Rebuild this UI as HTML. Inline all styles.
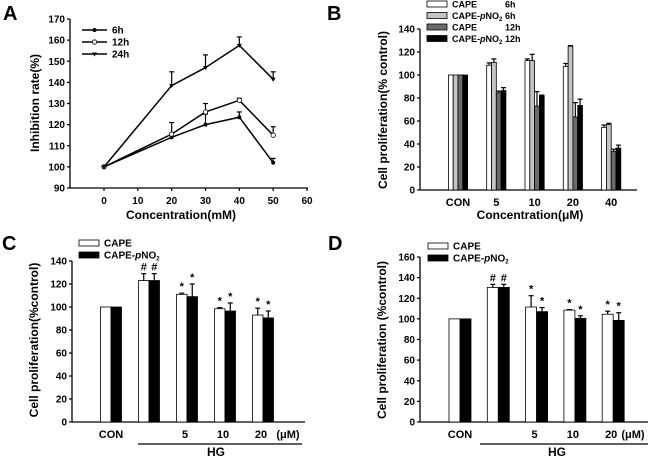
<!DOCTYPE html>
<html><head><meta charset="utf-8">
<style>
body{margin:0;background:#fff;}
svg{display:block;font-family:"Liberation Sans",Arial,sans-serif;font-weight:bold;}
</style></head>
<body>
<svg id="fig" width="650" height="458" viewBox="0 0 650 458" xmlns="http://www.w3.org/2000/svg"></svg>
<script>
// ---- Panel A data ----
const aX = [0, 20, 30, 40, 50];
const a6h = [100, 114, 120, 123.5, 102];
const a12h = [100, 115.5, 126, 131.5, 115];
const a24h = [100, 138.5, 147, 157.5, 141.5];
const a6hErr = [0, 0, 5, 2.5, 2];
const a12hErr = [0, 5.5, 4, 1, 4];
const a24hErr = [0, 6.5, 6, 4, 3.5];
const aXTicks = [0, 10, 20, 30, 40, 50, 60];
const aYTicks = [90, 100, 110, 120, 130, 140, 150, 160, 170];
// ---- Panel B data ----
const bCats = ["CON", "5", "10", "20", "40"];
const bCape6 = [100, 108.5, 112.5, 107.5, 54.5];
const bNo26 = [100, 111, 112.5, 125, 57];
const bCape12 = [100, 84.5, 73, 63.5, 33.5];
const bNo212 = [100, 86.5, 82, 73.5, 36.5];
const bCape6Err = [0, 2, 1.5, 2.5, 2];
const bNo26Err = [0, 3, 5.5, 0.5, 1];
const bCape12Err = [0, 1.5, 12.5, 12.5, 2];
const bNo212Err = [0, 2.5, 0.5, 5.5, 2.5];
const bYTicks = [0, 20, 40, 60, 80, 100, 120, 140];
// ---- Panel C data ----
const cCats = ["CON", "", "5", "10", "20"];
const cCape = [100, 123, 111, 98.5, 93];
const cNo2 = [100, 123, 109, 96.5, 90.5];
const cCapeErr = [0, 6, 1, 1, 6];
const cNo2Err = [0, 6, 11, 7, 6];
const cMarks = ["", "#", "*", "*", "*"];
const cYTicks = [0, 20, 40, 60, 80, 100, 120, 140];
// ---- Panel D data ----
const dCats = ["CON", "", "5", "10", "20"];
const dCape = [100, 130.5, 111.5, 108.5, 104.5];
const dNo2 = [100, 130.5, 107, 100.5, 98.5];
const dCapeErr = [0, 3, 11, 0.5, 3];
const dNo2Err = [0, 3, 4, 2.5, 7.5];
const dMarks = ["", "#", "*", "*", "*"];
const dYTicks = [0, 20, 40, 60, 80, 100, 120, 140, 160];

const NS = "http://www.w3.org/2000/svg";
const svg = document.getElementById("fig");
function mk(tag, attrs, parent, text) {
  const e = document.createElementNS(NS, tag);
  for (const k in attrs) e.setAttribute(k, attrs[k]);
  if (text !== undefined) e.textContent = text;
  (parent || svg).appendChild(e);
  return e;
}
function txt(x, y, s, size, anchor, name, parent) {
  const t = mk("text", {x: x, y: y, "font-size": size, "text-anchor": anchor || "middle"}, parent, s);
  
  
  return t;
}
function line(x1, y1, x2, y2, w, parent) {
  return mk("line", {x1: x1, y1: y1, x2: x2, y2: y2, stroke: "#000", "stroke-width": w || 1.3}, parent);
}
function group(name) {
  const g = mk("g", {});
  
  
  return g;
}
function errBar(x, yTop, yBase, parent) {
  if (Math.abs(yBase - yTop) < 0.5) return;
  line(x, yBase, x, yTop, 1.2, parent);
  line(x - 2.5, yTop, x + 2.5, yTop, 1.2, parent);
}
function yTitle(x, y, s, name, parent) {
  const t = txt(x, y, s, 12, "middle", name, parent);
  t.setAttribute("transform", "rotate(-90 " + x + " " + y + ")");
  return t;
}

// ===== Panel A =====
(function () {
  const g = group("panel-a");
  txt(3, 20, "A", 20, "start", "panel-label-a", g);
  const x0 = 70, x1 = 308, yT = 19, yB = 188;
  const sx = v => 104 + (v - 0) * (307 - 104) / 60;
  const sy = v => yB - (v - 90) * (yB - yT) / 80;
  line(x0, yT, x0, yB, 1.3, g);
  line(x0, yB, x1, yB, 1.3, g);
  aYTicks.forEach(v => { line(x0 - 3, sy(v), x0, sy(v), 1.2, g); txt(x0 - 5, sy(v) + 3.5, v, 10, "end", "y-tick-label", g); });
  aXTicks.forEach(v => { line(sx(v), yB, sx(v), yB + 3, 1.2, g); txt(sx(v), yB + 16, v, 10, "middle", "x-tick-label", g); });
  txt(181, 219, "Concentration(mM)", 12, "middle", "x-axis-title", g);
  yTitle(39, 103, "Inhibition rate(%)", "y-axis-title", g);
  const series = [[a6h, a6hErr, "6h", "dot"], [a12h, a12hErr, "12h", "open"], [a24h, a24hErr, "24h", "tri"]];
  series.forEach((s, si) => {
    const sg = group("series-" + s[2]);
    g.appendChild(sg);
    const pts = aX.map((x, i) => sx(x) + "," + sy(s[0][i])).join(" ");
    mk("polyline", {points: pts, fill: "none", stroke: "#000", "stroke-width": 1.5}, sg);
    aX.forEach((x, i) => {
      errBar(sx(x), sy(s[0][i] + s[1][i]), sy(s[0][i]), sg);
      drawMarker(sx(x), sy(s[0][i]), s[3], sg);
    });
    const ly = 30 + si * 12;
    line(82, ly, 107, ly, 1.5, g);
    drawMarker(94.5, ly, s[3], g);
    txt(112, ly + 3.5, s[2], 10, "start", "legend-entry-" + s[2], g);
  });
  function drawMarker(x, y, type, p) {
    if (type === "dot") mk("circle", {cx: x, cy: y, r: 2, fill: "#000"}, p);
    else if (type === "open") mk("circle", {cx: x, cy: y, r: 2.2, fill: "#fff", stroke: "#000", "stroke-width": 0.8}, p);
    else mk("polygon", {points: (x - 2.5) + "," + (y - 1.5) + " " + (x + 2.5) + "," + (y - 1.5) + " " + x + "," + (y + 2.5), fill: "#000"}, p);
  }
})();

// ===== generic bar panel =====
function barPanel(o) {
  const g = group(o.name);
  txt(o.lx, o.ly, o.letter, 20, "start", "panel-label-" + o.letter.toLowerCase(), g);
  const sy = v => o.yB - v * (o.yB - o.yT) / o.yMax;
  line(o.x0, o.yT, o.x0, o.yB, 1.3, g);
  line(o.x0, o.yB, o.x1, o.yB, 1.3, g);
  o.yTicks.forEach(v => { line(o.x0 - 3, sy(v), o.x0, sy(v), 1.2, g); txt(o.x0 - 5, sy(v) + 3.5, v, 10, "end", "y-tick-label", g); });
  const n = o.series.length;
  o.cats.forEach((c, i) => {
    const cx = o.c0 + i * o.step;
    o.series.forEach((s, si) => {
      const bx = cx - n * o.bw / 2 + si * o.bw;
      const v = s.vals[i];
      const r = mk("rect", {x: bx, y: sy(v), width: o.bw, height: o.yB - sy(v), fill: s.color, stroke: "#000", "stroke-width": 0.8}, g);
      
      
      errBar(bx + o.bw / 2, sy(v + s.err[i]), sy(v), g);
      if (o.marks && o.marks[i]) txt(bx + o.bw / 2, sy(v + s.err[i]) - 3, o.marks[i], 11, "middle", "significance-mark", g);
    });
    if (c) txt(cx + (o.catDx && i > 0 ? o.catDx : 0), o.yB + 16, c, 11, "middle", "x-tick-label", g);
  });
  o.series.forEach((s, si) => {
    const ly = o.legY + si * o.legStep;
    const r = mk("rect", {x: o.legX, y: ly - 3, width: 20, height: 6, fill: s.color, stroke: "#000", "stroke-width": 0.8}, g);
    
    
    const t = mk("text", {x: o.legX + 25, y: ly + 3.5, "font-size": o.legFont || 10}, g);
    
    
    s.label.forEach(part => {
      mk("tspan", part.attrs || {}, t, part.t);
    });
    if (s.time) txt(o.legX + 78, ly + 3.5, s.time, o.legFont || 10, "start", "legend-time", g);
  });
  return {g: g, sy: sy};
}
const lblCape = [{t: "CAPE"}];
const lblNo2 = [{t: "CAPE-"}, {t: "p", attrs: {"font-style": "italic"}}, {t: "NO"}, {t: "2", attrs: {"font-size": 6, dy: 2}}];

// ===== Panel B =====
(function () {
  const r = barPanel({name: "panel-b", letter: "B", lx: 327, ly: 20, x0: 420, x1: 637, yT: 29, yB: 190, yMax: 140,
    yTicks: bYTicks, cats: bCats, c0: 458, step: 38.3, bw: 4.8,
    series: [
      {key: "cape-6h", vals: bCape6, err: bCape6Err, color: "#fff", label: lblCape, time: "6h"},
      {key: "no2-6h", vals: bNo26, err: bNo26Err, color: "#c4c4c4", label: lblNo2, time: "6h"},
      {key: "cape-12h", vals: bCape12, err: bCape12Err, color: "#6a6a6a", label: lblCape, time: "12h"},
      {key: "no2-12h", vals: bNo212, err: bNo212Err, color: "#000", label: lblNo2, time: "12h"}],
    legX: 427, legY: 4, legStep: 11.5, legFont: 9});
  txt(530, 219, "Concentration(μM)", 12, "middle", "x-axis-title", r.g);
  yTitle(387, 110, "Cell proliferation(% control)", "y-axis-title", r.g);
})();

// ===== Panel C =====
(function () {
  const r = barPanel({name: "panel-c", letter: "C", lx: 2, ly: 250, x0: 72, x1: 305, yT: 261, yB: 422, yMax: 140,
    yTicks: cYTicks, cats: cCats, c0: 111, step: 38, bw: 10.5, marks: cMarks, catDx: -2,
    series: [
      {key: "cape", vals: cCape, err: cCapeErr, color: "#fff", label: lblCape},
      {key: "no2", vals: cNo2, err: cNo2Err, color: "#000", label: lblNo2}],
    legX: 79, legY: 243, legStep: 12});
  txt(288, 438, "(μM)", 11, "middle", "unit-label", r.g);
  line(138, 444, 302, 444, 1.2, r.g);
  txt(216, 456, "HG", 12, "middle", "hg-group-label", r.g);
  yTitle(38, 340, "Cell proliferation(%control)", "y-axis-title", r.g);
})();

// ===== Panel D =====
(function () {
  const r = barPanel({name: "panel-d", letter: "D", lx: 328, ly: 250, x0: 420, x1: 648, yT: 257, yB: 422, yMax: 160,
    yTicks: dYTicks, cats: dCats, c0: 460, step: 38.3, bw: 11, marks: dMarks, catDx: -2,
    series: [
      {key: "cape", vals: dCape, err: dCapeErr, color: "#fff", label: lblCape},
      {key: "no2", vals: dNo2, err: dNo2Err, color: "#000", label: lblNo2}],
    legX: 428, legY: 246, legStep: 12});
  txt(633, 438, "(μM)", 11, "middle", "unit-label", r.g);
  line(480, 444, 648, 444, 1.2, r.g);
  txt(557, 456, "HG", 12, "middle", "hg-group-label", r.g);
  yTitle(386, 340, "Cell proliferation (%control)", "y-axis-title", r.g);
})();
</script>
</body></html>
